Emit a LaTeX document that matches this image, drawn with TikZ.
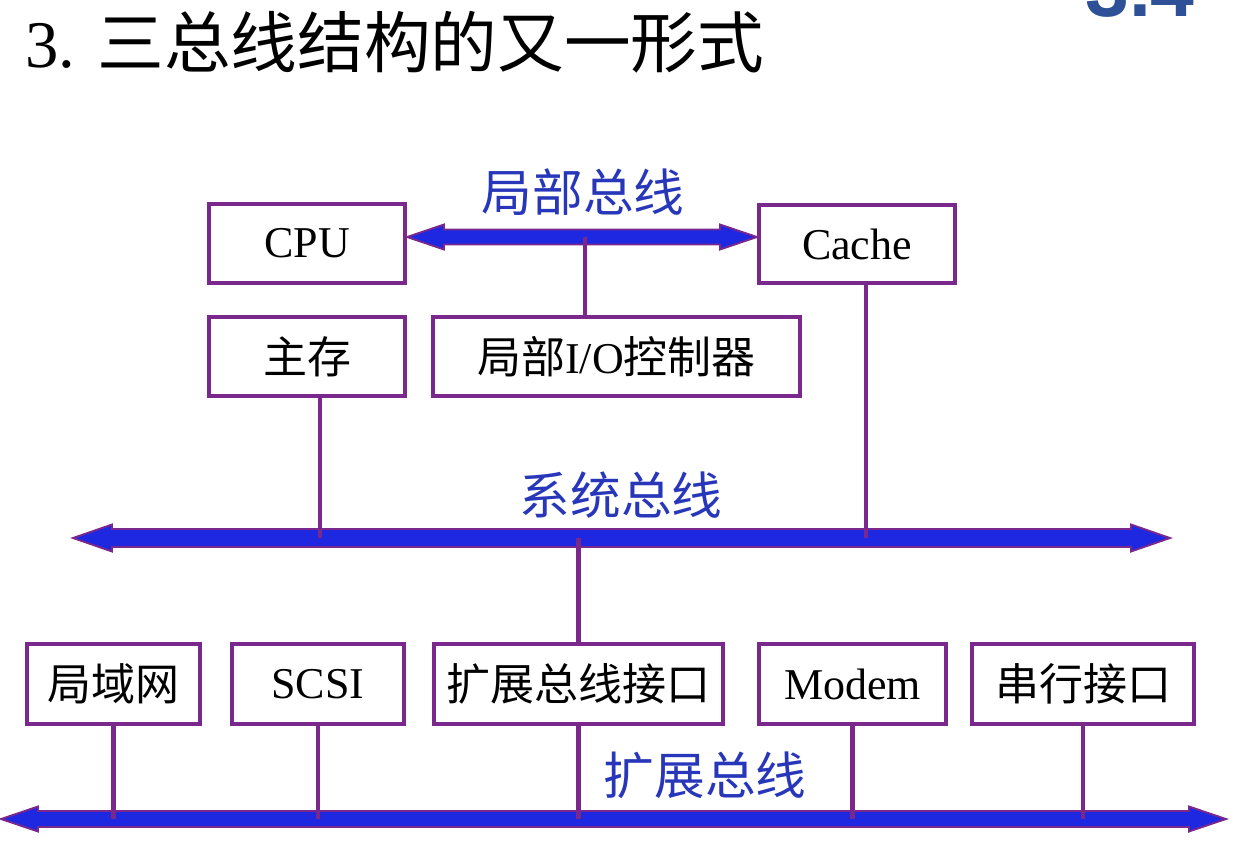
\documentclass[tikz,border=0pt]{standalone}
\usepackage{fontspec}
\setmainfont{Liberation Serif}
\newfontfamily\cjk{Noto Sans CJK SC}
\newfontfamily\numfont{Liberation Sans}
\usetikzlibrary{calc}
\definecolor{boxc}{RGB}{122,40,140}
\definecolor{busblue}{RGB}{30,40,225}
\definecolor{lblblue}{RGB}{40,55,185}
\definecolor{numc}{RGB}{45,80,150}
% #1 left tip, #2 right tip, #3 head length, #4 head half-height, #5 shaft half-height
\newcommand\hbus[5]{%
  \filldraw[bus] (#1) -- ($(#1)+(#3,#4)$) -- ($(#1)+(#3,#5)$) -- ($(#2)+(-#3,#5)$)
   -- ($(#2)+(-#3,#4)$) -- (#2) -- ($(#2)+(-#3,-#4)$) -- ($(#2)+(-#3,-#5)$)
   -- ($(#1)+(#3,-#5)$) -- ($(#1)+(#3,-#4)$) -- cycle;}
\begin{document}
\begin{tikzpicture}[x=0.75pt,y=-0.75pt,
  box/.style={draw=boxc, line width=3pt, minimum height=#1, inner sep=0pt,
    font=\fontsize{33}{36}\selectfont},
  box/.default=59pt,
  bus/.style={fill=busblue, draw=boxc, line width=1.4pt, line join=miter},
  link/.style={draw=boxc, line width=3.5pt},
  buslabel/.style={text=lblblue, font=\cjk\fontsize{38}{42}\selectfont}]
\useasboundingbox (0,0) rectangle (1234,854);
\fill[white] (0,0) rectangle (1234,854);
% title
\node[anchor=west, font=\fontsize{50}{56}\selectfont, inner sep=0pt] (title) at (25,42) {3. {\cjk 三总线结构的又一形式}};
\begin{scope}
\clip (0,0) rectangle (1234,854);
\node[anchor=base west, inner sep=0pt, text=numc, font=\numfont\bfseries\fontsize{59}{60}\selectfont] (sec) at (1085,16) {3.4};
\end{scope}
% boxes
\node[box, minimum width=147pt] (cpu) at (307,243.5) {CPU};
\node[box, minimum width=147pt] (cache) at (857,244) {Cache};
\node[box, minimum width=147pt] (mem) at (307,356.5) {\cjk 主存};
\node[box, minimum width=275.25pt] (io) at (616.5,356.5) {{\cjk 局部}I/O{\cjk 控制器}};
\node[box=60pt, minimum width=129.75pt] (lan) at (113.5,684) {\cjk 局域网};
\node[box=60pt, minimum width=129pt] (scsi) at (318,684) {SCSI};
\node[box=60pt, minimum width=216.75pt] (ebi) at (578.5,684) {\cjk 扩展总线接口};
\node[box=60pt, minimum width=140.25pt] (modem) at (852.5,684) {Modem};
\node[box=60pt, minimum width=166.5pt] (ser) at (1083,684) {\cjk 串行接口};
% bus labels
\node[buslabel] (lbl1) at (583,192) {局部总线};
\node[buslabel] (lbl2) at (621,495) {系统总线};
\node[buslabel] (lbl3) at (705,775) {扩展总线};
% local bus
\coordinate (lb) at (585,237);
\coordinate (lbL) at (cpu.east |- lb);
\coordinate (lbR) at (cache.west |- lb);
\hbus{lbL}{lbR}{37}{12.5}{7.5}
\draw[link] (lb) -- (lb |- io.north);
% system bus
\coordinate (sbL) at (73,538);
\coordinate (sbR) at (1170,538);
\hbus{sbL}{sbR}{39}{13.5}{9}
\coordinate (memdrop) at ($(mem.south)+(13,0)$);
\coordinate (cachedrop) at ($(cache.south)+(9,0)$);
\draw[link] (memdrop) -- (memdrop |- sbL);
\draw[link] (cachedrop) -- (cachedrop |- sbL);
\draw[link] (ebi.north |- sbL) -- (ebi.north);
% expansion bus
\coordinate (ebL) at (1,819);
\coordinate (ebR) at (1226,819);
\hbus{ebL}{ebR}{37}{12.5}{8}
\foreach \n in {lan,scsi,ebi,modem,ser}
  \draw[link] (\n.south) -- (\n.south |- ebL);
\end{tikzpicture}
\end{document}
